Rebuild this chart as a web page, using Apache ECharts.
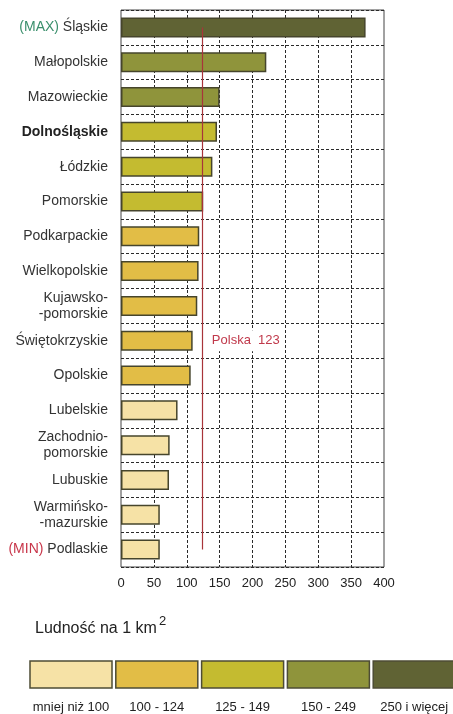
<!DOCTYPE html>
<html>
<head>
<meta charset="utf-8">
<script src="https://cdn.jsdelivr.net/npm/echarts@6/dist/echarts.min.js"></script>
<style>
  html, body { margin: 0; padding: 0; background: #fff; }
  #chart { width: 453px; height: 714px; }
</style>
</head>
<body>
<div id="chart"></div>
<script>
// population density per km2, by voivodeship (top to bottom)
var categories = ['Śląskie', 'Małopolskie', 'Mazowieckie', 'Dolnośląskie', 'Łódzkie', 'Pomorskie',
  'Podkarpackie', 'Wielkopolskie', 'Kujawsko-\n-pomorskie', 'Świętokrzyskie', 'Opolskie', 'Lubelskie',
  'Zachodnio-\npomorskie', 'Lubuskie', 'Warmińsko-\n-mazurskie', 'Podlaskie'];
var density = [372, 221, 150, 146, 139, 125, 119, 118, 116, 109, 106, 86, 74, 73, 59, 59];
var polandAvg = 123;

// classes used for bar colours and the legend
var classBreaks = [100, 125, 150, 250];
var classColors = ['#f6e2a6', '#e2bd46', '#c4bb30', '#8f943b', '#606334'];
var classLabels = ['mniej niż 100', '100 - 124', '125 - 149', '150 - 249', '250 i więcej'];

var FONT = '"Liberation Sans", Arial, sans-serif';

function classOf(v) {
  var i = 0;
  while (i < classBreaks.length && v >= classBreaks[i]) i++;
  return i;
}

var chart = echarts.init(document.getElementById('chart'));

var legendGraphics = [{
  type: 'text', left: 35, top: 621,
  style: { text: 'Ludność na 1 km', font: '16px ' + FONT, fill: '#222' }
}, {
  type: 'text', left: 159, top: 615,
  style: { text: '2', font: '13px ' + FONT, fill: '#222' }
}];
classColors.forEach(function (c, i) {
  var x = 30 + i * 85.8;
  legendGraphics.push({
    type: 'rect', shape: { x: x, y: 661, width: 82, height: 27 },
    style: { fill: c, stroke: '#4d4c34', lineWidth: 1.5 }
  });
  legendGraphics.push({
    type: 'text', x: x + 41, y: 707,
    style: { text: classLabels[i], font: '13px ' + FONT, fill: '#222', align: 'center', verticalAlign: 'middle' }
  });
});

chart.setOption({
  animation: false,
  grid: {
    left: 121, top: 10, width: 263, height: 557,
    show: true, borderColor: '#444', borderWidth: 1
  },
  xAxis: {
    type: 'value', min: 0, max: 400, interval: 50,
    axisLine: { show: false }, axisTick: { show: false },
    axisLabel: { fontFamily: FONT, fontSize: 13, color: '#222', margin: 10 },
    splitLine: { show: true, showMinLine: false, showMaxLine: false,
      lineStyle: { color: '#2a2a2a', type: [3, 2], width: 1 } }
  },
  yAxis: {
    type: 'category', data: categories, inverse: true,
    axisLine: { show: false }, axisTick: { show: false },
    splitLine: { show: true, interval: 0, lineStyle: { color: '#2a2a2a', type: [3, 2], width: 1 } },
    axisLabel: {
      margin: 13, fontFamily: FONT, fontSize: 14, color: '#333', lineHeight: 16, align: 'right',
      formatter: function (v) {
        if (v === 'Śląskie') return '{max|(MAX)} ' + v;
        if (v === 'Podlaskie') return '{min|(MIN)} ' + v;
        if (v === 'Dolnośląskie') return '{b|' + v + '}';
        return v;
      },
      rich: {
        max: { color: '#3a8f6c', fontFamily: FONT, fontSize: 14 },
        min: { color: '#c8364a', fontFamily: FONT, fontSize: 14 },
        b: { fontWeight: 'bold', fontFamily: FONT, fontSize: 14, color: '#222' }
      }
    }
  },
  series: [{
    type: 'bar',
    data: density,
    barWidth: 20,
    itemStyle: {
      color: function (p) { return classColors[classOf(p.value)]; },
      borderColor: '#46452c', borderWidth: 1.5
    },
    markLine: {
      silent: true, symbol: 'none', label: { show: false },
      lineStyle: { color: '#a8343a', type: 'solid', width: 1.2 },
      data: [[{ coord: [polandAvg, categories[0]] }, { coord: [polandAvg, categories[categories.length - 1]] }]]
    },
    markPoint: {
      silent: true, symbol: 'circle', symbolSize: 0,
      label: {
        show: true, position: 'right', distance: 7,
        formatter: 'Polska  ' + polandAvg,
        fontFamily: FONT, fontSize: 13, color: '#c0394b',
        backgroundColor: '#fff', padding: [4, 3]
      },
      data: [{ coord: [polandAvg, 'Świętokrzyskie'] }]
    }
  }],
  graphic: legendGraphics
});
</script>
</body>
</html>
